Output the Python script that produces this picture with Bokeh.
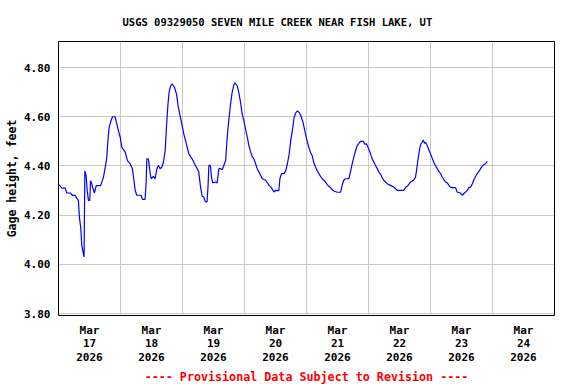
import pandas as pd
from bokeh.plotting import figure
from bokeh.models import (FixedTicker, DatetimeTickFormatter, Title, Range1d,
                          NumeralTickFormatter)
from bokeh.embed import file_html
from bokeh.resources import INLINE

# ---------------- data ----------------
series_start = "2026-03-17 00:00"
# hours since series_start
hours = [0.0, 0.5, 1.3, 2.6, 3.2, 4.5, 5.5, 6.4, 7.0, 7.7, 8.1, 8.6, 9.0, 9.5, 9.9,
         10.2, 10.7, 11.1, 11.6, 12.1, 12.4, 12.8, 13.3, 13.9, 14.6, 16.3, 16.8,
         17.4, 18.1, 18.7, 19.1, 19.6, 20.3, 20.9, 21.9, 22.6, 23.2, 23.9, 24.5,
         25.8, 26.7, 27.7, 28.6, 29.2, 29.7, 30.3, 32.0, 32.5, 33.5, 33.9, 34.2,
         34.8, 35.5, 35.9, 36.8, 37.4, 38.1, 38.7, 39.3, 40.0, 40.6, 41.3, 41.8,
         42.3, 42.8, 43.4, 44.0, 44.9, 45.7, 46.3, 47.2, 47.9, 48.5, 49.2, 49.8,
         50.4, 51.1, 51.7, 52.4, 53.0, 53.7, 54.3, 54.9, 55.6, 56.2, 56.9, 57.5,
         57.9, 58.2, 58.8, 59.2, 59.7, 60.8, 61.4, 62.1, 62.7, 63.4, 64.0, 64.7,
         65.3, 65.9, 66.6, 67.2, 67.9, 68.3, 69.2, 69.8, 70.5, 71.1, 71.8, 72.4,
         73.1, 73.7, 74.4, 75.0, 75.6, 76.3, 76.9, 77.6, 78.2, 78.9, 80.2, 81.5,
         82.4, 83.4, 84.1, 85.3, 85.7, 86.3, 87.3, 88.0, 88.6, 89.3, 89.9, 90.6,
         91.2, 91.9, 92.5, 93.2, 93.8, 94.5, 95.1, 95.6, 96.2, 96.9, 97.5, 98.2,
         98.8, 99.5, 100.1, 100.8, 101.4, 102.1, 102.7, 103.3, 104.0, 104.6,
         105.3, 105.9, 106.6, 107.9, 109.2, 109.8, 110.4, 111.1, 112.4, 113.0,
         113.7, 114.3, 115.0, 115.6, 116.3, 116.9, 118.0, 118.5, 119.2, 120.1,
         120.8, 121.4, 122.1, 122.7, 123.4, 124.0, 124.7, 125.3, 125.9, 126.6,
         127.2, 128.5, 129.8, 131.1, 133.7, 134.3, 135.0, 135.6, 136.3, 137.6,
         138.2, 138.6, 139.1, 139.5, 139.9, 140.4, 140.8, 141.2, 141.7, 142.1,
         142.7, 143.4, 144.0, 144.6, 145.3, 145.9, 146.6, 147.2, 147.9, 148.5,
         149.2, 149.8, 150.5, 151.1, 151.7, 152.4, 153.7, 154.3, 155.6, 156.3,
         156.9, 157.6, 158.2, 158.9, 159.5, 160.2, 160.8, 161.5, 162.1, 162.8,
         163.4, 164.0, 164.7, 165.3, 166.0]
gage_ft = [4.325, 4.32, 4.31, 4.31, 4.29, 4.29, 4.28, 4.28, 4.27, 4.26, 4.19, 4.15,
           4.08, 4.05, 4.03, 4.38, 4.36, 4.30, 4.26, 4.26, 4.34, 4.33, 4.31, 4.29,
           4.32, 4.32, 4.335, 4.355, 4.395, 4.435, 4.50, 4.556, 4.583, 4.60, 4.60,
           4.57, 4.543, 4.516, 4.476, 4.456, 4.422, 4.409, 4.389, 4.342, 4.30,
           4.281, 4.281, 4.264, 4.264, 4.328, 4.429, 4.429, 4.369, 4.348, 4.358,
           4.348, 4.389, 4.402, 4.389, 4.395, 4.415, 4.462, 4.56, 4.64, 4.70,
           4.725, 4.734, 4.72, 4.691, 4.644, 4.597, 4.563, 4.53, 4.503, 4.476,
           4.452, 4.438, 4.429, 4.415, 4.402, 4.389, 4.375, 4.321, 4.277, 4.274,
           4.254, 4.254, 4.321, 4.402, 4.402, 4.355, 4.331, 4.335, 4.331, 4.389,
           4.389, 4.385, 4.402, 4.422, 4.516, 4.583, 4.651, 4.698, 4.731, 4.738,
           4.725, 4.698, 4.657, 4.61, 4.583, 4.55, 4.516, 4.483, 4.456, 4.438,
           4.429, 4.409, 4.389, 4.375, 4.362, 4.348, 4.342, 4.321, 4.312, 4.294,
           4.301, 4.30, 4.348, 4.369, 4.369, 4.382, 4.409, 4.449, 4.503, 4.55,
           4.597, 4.617, 4.624, 4.617, 4.604, 4.583, 4.556, 4.53, 4.503, 4.476,
           4.456, 4.442, 4.415, 4.395, 4.382, 4.369, 4.358, 4.348, 4.342, 4.335,
           4.325, 4.317, 4.312, 4.304, 4.298, 4.293, 4.293, 4.321, 4.342, 4.348,
           4.348, 4.375, 4.409, 4.435, 4.462, 4.483, 4.492, 4.50, 4.50, 4.489,
           4.49, 4.469, 4.449, 4.429, 4.415, 4.402, 4.389, 4.375, 4.366, 4.352,
           4.342, 4.335, 4.328, 4.321, 4.314, 4.301, 4.301, 4.312, 4.317, 4.325,
           4.335, 4.344, 4.355, 4.382, 4.422, 4.449, 4.476, 4.492, 4.496, 4.506,
           4.492, 4.496, 4.483, 4.465, 4.449, 4.433, 4.415, 4.402, 4.389, 4.379,
           4.369, 4.355, 4.344, 4.335, 4.331, 4.321, 4.314, 4.312, 4.312, 4.294,
           4.29, 4.281, 4.288, 4.294, 4.301, 4.312, 4.314, 4.328, 4.344, 4.358,
           4.369, 4.379, 4.389, 4.398, 4.406, 4.409, 4.419]
day_labels = ["2026-03-17", "2026-03-18", "2026-03-19", "2026-03-20",
              "2026-03-21", "2026-03-22", "2026-03-23", "2026-03-24"]
y_ticks = [3.80, 4.00, 4.20, 4.40, 4.60, 4.80]
title_text = "USGS 09329050 SEVEN MILE CREEK NEAR FISH LAKE, UT"
y_label = "Gage height, feet"
footer_text = "---- Provisional Data Subject to Revision ----"

# ---------------- figure ----------------
times = pd.Timestamp(series_start) + pd.to_timedelta(hours, unit="h")
x_start = pd.Timestamp(day_labels[0])
x_end = pd.Timestamp(day_labels[-1]) + pd.Timedelta(days=1)

FONT = "DejaVu Sans Mono"

p = figure(width=576, height=384, x_axis_type="datetime",
           x_range=Range1d(x_start, x_end), y_range=Range1d(3.792, 4.906),
           output_backend="svg", toolbar_location=None,
           min_border_left=58, min_border_right=22, min_border_top=40,
           min_border_bottom=68)

p.background_fill_color = "white"
p.border_fill_color = "white"
p.outline_line_color = "black"
p.outline_line_width = 1

# title
p.title.text = title_text
p.title.align = "left"
p.title.offset = 64
p.title.standoff = 27
p.title.text_font = FONT
p.title.text_font_size = "10.5px"
p.title.text_font_style = "bold"
p.title.text_color = "black"

# x axis: labels at noon, grid at midnight
noon_ms = [(pd.Timestamp(d) + pd.Timedelta(hours=12)).value / 1e6 for d in day_labels]
midnight_ms = [pd.Timestamp(d).value / 1e6 for d in day_labels[1:]]
fmt = "%b\n%d\n%Y"
xa = p.xaxis[0]
xa.ticker = FixedTicker(ticks=noon_ms)
xa.formatter = DatetimeTickFormatter(microseconds=fmt, milliseconds=fmt, seconds=fmt,
                                     minsec=fmt, minutes=fmt, hourmin=fmt, hours=fmt,
                                     days=fmt, months=fmt, years=fmt)
xa.major_tick_line_color = None
xa.minor_tick_line_color = None
xa.major_tick_out = 0
xa.major_tick_in = 0
xa.minor_tick_out = 0
xa.minor_tick_in = 0
xa.axis_line_color = None
xa.major_label_standoff = 8
xa.major_label_text_font = FONT
xa.major_label_text_font_size = "11px"
xa.major_label_text_font_style = "bold"
xa.major_label_text_color = "black"
xa.major_label_text_line_height = 1.05
p.xgrid[0].ticker = FixedTicker(ticks=midnight_ms)
p.xgrid[0].grid_line_color = "#c8c8c8"

# y axis
ya = p.yaxis[0]
ya.ticker = FixedTicker(ticks=y_ticks)
ya.formatter = NumeralTickFormatter(format="0.00")
ya.major_tick_line_color = None
ya.minor_tick_line_color = None
ya.major_tick_out = 0
ya.major_tick_in = 0
ya.minor_tick_out = 0
ya.minor_tick_in = 0
ya.axis_line_color = None
ya.major_label_standoff = 8
ya.major_label_text_font = FONT
ya.major_label_text_font_size = "11px"
ya.major_label_text_font_style = "bold"
ya.major_label_text_color = "black"
ya.axis_label = y_label
ya.axis_label_standoff = 2
ya.axis_label_text_font = FONT
ya.axis_label_text_font_size = "11.5px"
ya.axis_label_text_font_style = "bold"
ya.axis_label_text_color = "black"
p.ygrid[0].grid_line_color = "#c8c8c8"

# footer
p.add_layout(Title(text=footer_text, align="center", text_color="red",
                   text_font=FONT, text_font_size="11.7px", text_font_style="bold",
                   standoff=2), "below")

p.line(times, gage_ft, line_color="#0000ff", line_width=1.2)

open("out.html", "w").write(file_html(p, INLINE))
